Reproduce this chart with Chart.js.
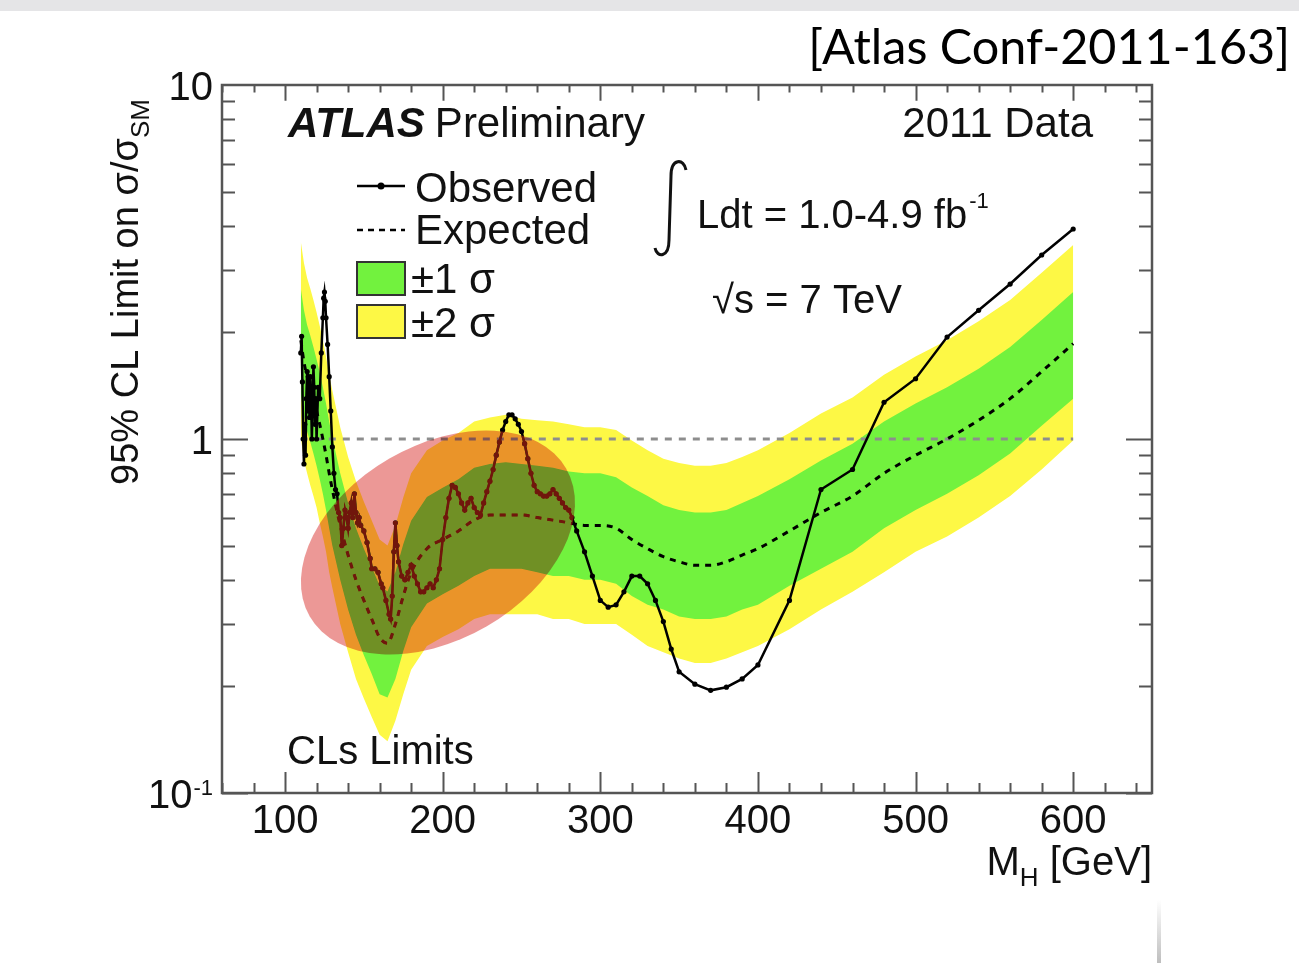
<!DOCTYPE html>
<html lang="en">
<head>
<meta charset="UTF-8">
<title>ATLAS CLs Limits</title>
<script src="https://cdn.jsdelivr.net/npm/chart.js"></script>
<style>
    html, body { margin: 0; padding: 0; background: #fff; }
    #wrap { position: absolute; left: 0; top: 0; width: 1299px; height: 963px; }
</style>
</head>
<body>
<div id="wrap"><canvas id="limitChart" width="1299" height="963"></canvas></div>
<script>
// observed limit (sigma / sigma_SM) vs Higgs mass [GeV]
const obsMass = [110, 110.5, 111, 111.5, 112, 112.5, 113, 113.5, 114, 114.5, 115, 115.5, 116, 116.5, 117, 117.5,
    118, 118.5, 119, 119.5, 120, 121, 122, 123, 124, 124.5, 125, 125.5, 126, 127, 128, 129, 130, 131, 132, 133,
    134, 135, 136, 137, 138, 139, 140, 141, 142, 143, 144, 145, 146, 147, 148, 150, 152, 154, 155, 157, 159, 161,
    162, 164, 166, 167, 168, 169, 170, 171, 172, 174, 176, 178, 180, 182, 184, 186, 188, 190, 192, 194, 196, 198,
    200, 202, 204, 206, 208, 210, 212, 214, 216, 218, 220, 222, 224, 226, 228, 230, 232, 234, 236, 238, 240, 242,
    244, 246, 248, 250, 252, 254, 256, 258, 260, 262, 264, 266, 268, 270, 272, 274, 276, 278, 280, 282, 285, 290,
    295, 300, 305, 310, 315, 320, 325, 330, 335, 340, 345, 350, 360, 370, 380, 390, 400, 420, 440, 460, 480, 500,
    520, 540, 560, 580, 600];
const obsLimit = [1.75, 1.95, 1.45, 1.0, 0.85, 1.1, 0.9, 1.3, 1.55, 1.2, 1.45, 1.15, 1.5, 1.3, 1.0, 1.25,
    1.6, 1.4, 1.1, 1.3, 1.0, 1.4, 1.3, 1.75, 2.2, 2.5, 2.6, 2.45, 2.2, 1.85, 1.5, 1.2, 0.95, 0.8, 0.72, 0.7,
    0.62, 0.6, 0.5, 0.56, 0.63, 0.6, 0.56, 0.62, 0.66, 0.6, 0.7, 0.62, 0.58, 0.6, 0.57, 0.55, 0.51, 0.46, 0.43, 0.43, 0.42, 0.39,
    0.38, 0.35, 0.32, 0.31, 0.36, 0.48, 0.58, 0.5, 0.45, 0.41, 0.4, 0.42, 0.44, 0.41, 0.39, 0.37, 0.37, 0.38, 0.39, 0.38, 0.4, 0.43,
    0.52, 0.6, 0.68, 0.74, 0.73, 0.7, 0.66, 0.63, 0.66, 0.68, 0.64, 0.62, 0.61, 0.66, 0.71, 0.76, 0.82, 0.9, 0.98, 1.06, 1.12, 1.17,
    1.17, 1.14, 1.1, 1.05, 0.97, 0.88, 0.8, 0.74, 0.71, 0.7, 0.69, 0.69, 0.7, 0.72, 0.7, 0.68, 0.66, 0.64, 0.63, 0.6, 0.55, 0.48,
    0.41, 0.35, 0.335, 0.34, 0.37, 0.41, 0.41, 0.39, 0.35, 0.305, 0.255, 0.22, 0.203, 0.195, 0.199, 0.21, 0.23, 0.35, 0.72, 0.82, 1.27, 1.48,
    1.94, 2.31, 2.74, 3.31, 3.92];

// expected limit and the +-1 / +-2 sigma bands
const expMass = [110, 112, 114, 116, 118, 120, 122, 124, 126, 128, 130, 135, 140, 145, 150, 155, 160, 165, 170, 175,
    180, 190, 200, 210, 220, 230, 240, 250, 260, 270, 280, 290, 300, 310, 320, 330, 340, 350, 360, 370, 380, 390,
    400, 420, 440, 460, 480, 500, 520, 540, 560, 580, 600];
const expLimit = [1.9, 1.65, 1.5, 1.4, 1.3, 1.2, 1.1, 1.0, 0.9, 0.8, 0.72, 0.57, 0.47, 0.4, 0.35, 0.31, 0.275, 0.265, 0.3, 0.36,
    0.42, 0.49, 0.52, 0.55, 0.59, 0.61, 0.61, 0.61, 0.6, 0.59, 0.58, 0.57, 0.57, 0.56, 0.52, 0.49, 0.465, 0.45, 0.44, 0.44, 0.45, 0.47,
    0.49, 0.55, 0.62, 0.69, 0.8, 0.9, 1.0, 1.13, 1.3, 1.55, 1.86];
const sigma1Lo = [1.33, 1.16, 1.05, 0.98, 0.91, 0.84, 0.77, 0.7, 0.63, 0.56, 0.5, 0.4, 0.33, 0.28, 0.245, 0.217, 0.19, 0.186, 0.21, 0.252,
    0.294, 0.343, 0.364, 0.385, 0.41, 0.43, 0.43, 0.43, 0.42, 0.41, 0.41, 0.4, 0.4, 0.39, 0.36, 0.34, 0.33, 0.315, 0.31, 0.31, 0.315, 0.33,
    0.34, 0.385, 0.43, 0.48, 0.56, 0.63, 0.7, 0.79, 0.91, 1.09, 1.3];
const sigma1Hi = [2.66, 2.31, 2.1, 1.96, 1.82, 1.68, 1.54, 1.4, 1.26, 1.12, 1.01, 0.8, 0.66, 0.56, 0.49, 0.434, 0.385, 0.371, 0.42, 0.504,
    0.588, 0.686, 0.728, 0.77, 0.83, 0.85, 0.86, 0.85, 0.84, 0.83, 0.81, 0.8, 0.8, 0.78, 0.73, 0.69, 0.65, 0.63, 0.62, 0.62, 0.63, 0.66,
    0.69, 0.77, 0.87, 0.97, 1.12, 1.26, 1.4, 1.58, 1.82, 2.17, 2.6];
const sigma2Lo = [1.01, 0.87, 0.8, 0.74, 0.69, 0.64, 0.58, 0.53, 0.48, 0.42, 0.38, 0.3, 0.25, 0.21, 0.185, 0.164, 0.146, 0.14, 0.16, 0.19,
    0.223, 0.26, 0.276, 0.29, 0.31, 0.32, 0.32, 0.32, 0.32, 0.31, 0.31, 0.3, 0.3, 0.3, 0.28, 0.26, 0.25, 0.24, 0.233, 0.233, 0.24, 0.25,
    0.26, 0.29, 0.33, 0.37, 0.42, 0.48, 0.53, 0.6, 0.69, 0.82, 0.99];
const sigma2Hi = [3.61, 3.14, 2.85, 2.66, 2.47, 2.28, 2.09, 1.9, 1.71, 1.52, 1.37, 1.08, 0.89, 0.76, 0.665, 0.589, 0.52, 0.5, 0.57, 0.684,
    0.8, 0.93, 0.99, 1.04, 1.12, 1.15, 1.17, 1.14, 1.13, 1.12, 1.1, 1.08, 1.08, 1.06, 0.99, 0.93, 0.88, 0.855, 0.84, 0.84, 0.855, 0.89,
    0.93, 1.04, 1.18, 1.31, 1.52, 1.71, 1.9, 2.15, 2.47, 2.95, 3.53];

// sigma/sigma_SM = 1 reference line
const unityMass = [110, 600];
const unityLimit = [1, 1];

// axes
const xMin = 60, xMax = 650;
const yMin = 0.1, yMax = 10;
const xTickValues = [100, 200, 300, 400, 500, 600];
const xTickLabels = ['100', '200', '300', '400', '500', '600'];
const yTickValues = [0.1, 1, 10];
const yTickLabels = [['10', '-1'], ['1', ''], ['10', '']];

const GREEN = '#72f23e';
const YELLOW = '#fdf845';
const FONT = '"Liberation Sans", Arial, Helvetica, sans-serif';

// highlighted region (drawn over the plot)
const highlight = { mass: 197, limit: 0.51, rx: 148, ry: 97, tilt: -30 };

function pts(xs, ys) {
    return xs.map(function (x, i) { return { x: x, y: ys[i] }; });
}

const bandStyle = { borderWidth: 0, borderColor: 'rgba(0,0,0,0)', pointRadius: 0 };

const highlightPlugin = {
    id: 'highlight',
    afterDatasetsDraw: function (chart) {
        const ctx = chart.ctx, a = chart.chartArea;
        const cx = chart.scales.x.getPixelForValue(highlight.mass);
        const cy = chart.scales.y.getPixelForValue(highlight.limit);
        ctx.save();
        ctx.beginPath();
        ctx.rect(a.left, a.top, a.right - a.left, a.bottom - a.top);
        ctx.clip();
        ctx.beginPath();
        ctx.ellipse(cx, cy, highlight.rx, highlight.ry, highlight.tilt * Math.PI / 180, 0, Math.PI * 2);
        ctx.globalCompositeOperation = 'multiply';
        ctx.fillStyle = 'rgb(236,152,150)';
        ctx.fill();
        ctx.globalCompositeOperation = 'lighten';
        ctx.fillStyle = 'rgb(112,22,12)';
        ctx.fill();
        ctx.restore();
    }
};

const backgroundPlugin = {
    id: 'background',
    beforeDraw: function (chart) {
        const ctx = chart.ctx;
        ctx.save();
        ctx.fillStyle = '#ffffff';
        ctx.fillRect(0, 0, chart.width, chart.height);
        ctx.fillStyle = '#e5e5e7';
        ctx.fillRect(0, 0, chart.width, 11);
        const g = ctx.createLinearGradient(0, 900, 0, 963);
        g.addColorStop(0, 'rgba(190,190,190,0)');
        g.addColorStop(1, 'rgba(190,190,190,1)');
        ctx.fillStyle = g;
        ctx.fillRect(1157, 900, 4, 63);
        ctx.restore();
    }
};

function drawText(ctx, s, x, y, size, align, style) {
    ctx.font = (style || '') + ' ' + size + 'px ' + FONT;
    ctx.textAlign = align || 'left';
    ctx.textBaseline = 'alphabetic';
    ctx.fillText(s, x, y);
}

const framePlugin = {
    id: 'frame',
    afterDraw: function (chart) {
        const ctx = chart.ctx, a = chart.chartArea;
        const xs = chart.scales.x, ys = chart.scales.y;
        ctx.save();
        ctx.strokeStyle = '#555';
        ctx.lineWidth = 2;
        ctx.beginPath();
        // x ticks: minor every 20 GeV, major at labels
        for (let v = xMin; v < xMax; v += 20) {
            const px = Math.round(xs.getPixelForValue(v)) + 0.5;
            const len = xTickValues.indexOf(v) >= 0 ? 21 : 10;
            ctx.moveTo(px, a.bottom); ctx.lineTo(px, a.bottom - len);
            ctx.moveTo(px, a.top); ctx.lineTo(px, a.top + len * 0.75);
        }
        // y ticks on log axis
        for (let d = 0.1; d < 10; d *= 10) {
            for (let k = 1; k <= 9; k++) {
                const v = d * k;
                const py = Math.round(ys.getPixelForValue(v)) + 0.5;
                const len = k === 1 ? 26 : 13;
                ctx.moveTo(a.left, py); ctx.lineTo(a.left + len, py);
                ctx.moveTo(a.right, py); ctx.lineTo(a.right - len, py);
            }
        }
        ctx.stroke();
        ctx.lineWidth = 2.5;
        ctx.strokeRect(a.left, a.top, a.right - a.left, a.bottom - a.top);

        ctx.fillStyle = '#111';
        // x tick labels
        xTickValues.forEach(function (v, i) {
            drawText(ctx, xTickLabels[i], xs.getPixelForValue(v), a.bottom + 40, 40, 'center');
        });
        // y tick labels with exponents
        yTickValues.forEach(function (v, i) {
            const py = ys.getPixelForValue(v);
            const base = yTickLabels[i][0], exp = yTickLabels[i][1];
            let right = a.left - 9;
            if (exp) {
                ctx.font = '22px ' + FONT;
                const w = ctx.measureText(exp).width;
                drawText(ctx, exp, right, py + 2, 22, 'right');
                right -= w + 1;
            }
            drawText(ctx, base, right, py + 15, 40, 'right');
        });

        // axis titles
        ctx.font = '40px ' + FONT;
        const gev = ' [GeV]';
        const wGev = ctx.measureText(gev).width;
        drawText(ctx, gev, a.right, 875, 40, 'right');
        ctx.font = '26px ' + FONT;
        const wH = ctx.measureText('H').width;
        drawText(ctx, 'H', a.right - wGev, 886, 26, 'right');
        drawText(ctx, 'M', a.right - wGev - wH, 875, 40, 'right');

        ctx.save();
        ctx.translate(138, 292);
        ctx.rotate(-Math.PI / 2);
        ctx.font = '38px ' + FONT;
        const yTitle = '95% CL Limit on \u03c3/\u03c3';
        const wT = ctx.measureText(yTitle).width;
        ctx.font = '26px ' + FONT;
        const wS = ctx.measureText('SM').width;
        const x0 = -(wT + wS) / 2;
        drawText(ctx, yTitle, x0, 0, 38, 'left');
        drawText(ctx, 'SM', x0 + wT, 11, 26, 'left');
        ctx.restore();

        // labels inside the frame
        drawText(ctx, 'ATLAS', 288, 137, 42, 'left', 'italic bold');
        ctx.font = 'italic bold 42px ' + FONT;
        const wA = ctx.measureText('ATLAS').width;
        drawText(ctx, 'Preliminary', 288 + wA + 10, 137, 42, 'left');
        drawText(ctx, '2011 Data', 1093, 137, 42, 'right');

        drawText(ctx, 'Observed', 415, 202, 42, 'left');
        drawText(ctx, 'Expected', 415, 244, 42, 'left');
        drawText(ctx, '\u00b11 \u03c3', 411, 293, 42, 'left');
        drawText(ctx, '\u00b12 \u03c3', 411, 337, 42, 'left');

        // legend samples
        ctx.strokeStyle = '#000';
        ctx.lineWidth = 2.5;
        ctx.beginPath(); ctx.moveTo(357, 186); ctx.lineTo(405, 186); ctx.stroke();
        ctx.fillStyle = '#000';
        ctx.beginPath(); ctx.arc(381, 186, 3.5, 0, Math.PI * 2); ctx.fill();
        ctx.setLineDash([6, 5]);
        ctx.beginPath(); ctx.moveTo(357, 230); ctx.lineTo(405, 230); ctx.stroke();
        ctx.setLineDash([]);
        ctx.lineWidth = 2;
        ctx.strokeStyle = '#333';
        ctx.fillStyle = GREEN; ctx.fillRect(357, 262, 48, 33); ctx.strokeRect(357, 262, 48, 33);
        ctx.fillStyle = YELLOW; ctx.fillRect(357, 305, 48, 33); ctx.strokeRect(357, 305, 48, 33);

        // luminosity and energy
        ctx.strokeStyle = '#111';
        ctx.lineWidth = 3;
        ctx.beginPath();
        ctx.moveTo(686, 170);
        ctx.bezierCurveTo(684, 158, 671, 158, 671, 176);
        ctx.lineTo(669, 240);
        ctx.bezierCurveTo(669, 258, 657, 258, 655, 248);
        ctx.stroke();
        ctx.fillStyle = '#111';
        drawText(ctx, 'Ldt = 1.0-4.9 fb', 697, 228, 40, 'left');
        ctx.font = '40px ' + FONT;
        const wL = ctx.measureText('Ldt = 1.0-4.9 fb').width;
        drawText(ctx, '-1', 697 + wL + 2, 208, 22, 'left');
        drawText(ctx, '\u221as = 7 TeV', 712, 313, 40, 'left');

        drawText(ctx, 'CLs Limits', 287, 764, 40, 'left');

        // reference tag, top right
        ctx.font = '100px Lato, "Open Sans", sans-serif';
        const tag = '[Atlas Conf-2011-163]';
        const size = 100 * 482 / ctx.measureText(tag).width;
        ctx.font = size.toFixed(1) + 'px Lato, "Open Sans", sans-serif';
        ctx.textAlign = 'right';
        ctx.fillStyle = '#000';
        ctx.fillText(tag, 1290, 64);
        ctx.restore();
    }
};

const chart = new Chart(document.getElementById('limitChart').getContext('2d'), {
    type: 'line',
    data: {
        datasets: [
            {
                label: 'Observed', data: pts(obsMass, obsLimit), order: 0,
                borderColor: '#000', borderWidth: 2.5, pointRadius: 2.6,
                pointBackgroundColor: '#000', pointBorderWidth: 0, fill: false
            },
            {
                label: 'Expected', data: pts(expMass, expLimit), order: 1,
                borderColor: '#000', borderWidth: 3, borderDash: [6, 6], pointRadius: 0,
                cubicInterpolationMode: 'monotone', fill: false
            },
            {
                label: 'SM', data: pts(unityMass, unityLimit), order: 2,
                borderColor: '#8d8d8d', borderWidth: 3, borderDash: [7, 7], pointRadius: 0, fill: false
            },
            Object.assign({ label: '+1 sigma', data: pts(expMass, sigma1Hi), order: 3, fill: '+1', backgroundColor: GREEN }, bandStyle),
            Object.assign({ label: '-1 sigma', data: pts(expMass, sigma1Lo), order: 4, fill: false }, bandStyle),
            Object.assign({ label: '+2 sigma', data: pts(expMass, sigma2Hi), order: 5, fill: '+1', backgroundColor: YELLOW }, bandStyle),
            Object.assign({ label: '-2 sigma', data: pts(expMass, sigma2Lo), order: 6, fill: false }, bandStyle)
        ]
    },
    options: {
        responsive: false,
        animation: false,
        devicePixelRatio: 1,
        layout: { padding: { left: 222, right: 147, top: 85, bottom: 170 } },
        scales: {
            x: { type: 'linear', min: xMin, max: xMax, display: false },
            y: { type: 'logarithmic', min: yMin, max: yMax, display: false }
        },
        plugins: {
            legend: { display: false },
            tooltip: { enabled: false }
        }
    },
    plugins: [backgroundPlugin, highlightPlugin, framePlugin]
});
</script>
</body>
</html>
